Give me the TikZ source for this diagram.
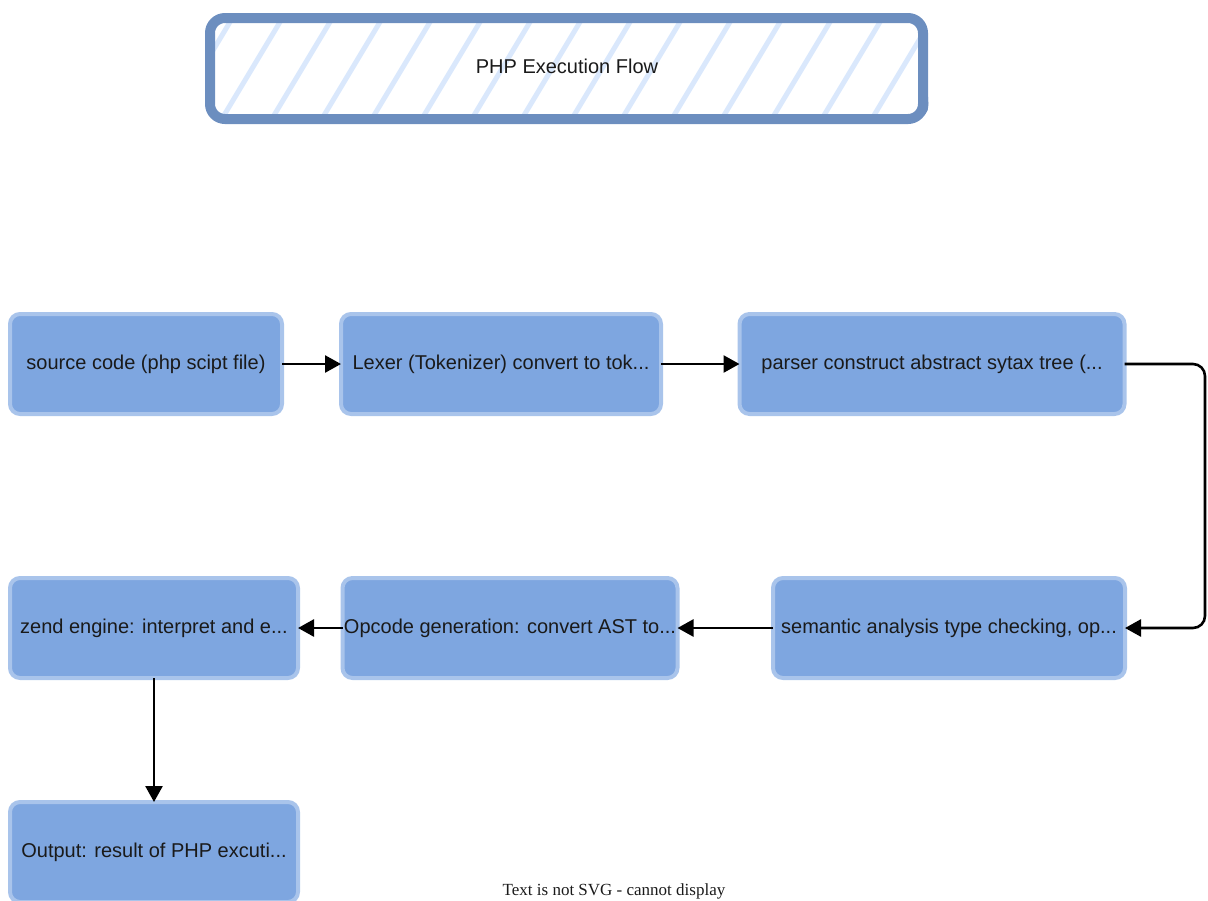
\documentclass[tikz,border=0pt]{standalone}
\usepackage{fontspec}
\setmainfont{Liberation Sans}
\newfontfamily\notefont{Liberation Serif}
\usetikzlibrary{arrows.meta}
\definecolor{stepfill}{HTML}{7EA6E0}
\definecolor{stepline}{HTML}{A9C4EB}
\definecolor{titleline}{HTML}{6C8EBF}
\definecolor{titlehatch}{HTML}{DAE8FC}
\definecolor{inktext}{HTML}{1A1A1A}
\tikzset{
  stepbox/.style={draw=stepline, fill=stepfill, line width=4pt, rounded corners=10pt,
    minimum height=100pt, inner sep=0pt, outer sep=0pt, text=inktext,
    font=\fontsize{20}{24}\selectfont},
  flow/.style={line width=2.6pt, -{Triangle[length=16pt,width=17pt]}, rounded corners=12pt}
}
\begin{document}
\begin{tikzpicture}[x=1pt,y=-1pt]
\useasboundingbox (0,0) rectangle (1208,900);

% title banner with hatched fill
\begin{scope}
  \clip[rounded corners=14pt] (210,17) rectangle (924,119);
  \foreach \i in {0,...,16} {
    \draw[titlehatch, line width=5pt] ({170+50*\i},122) -- ({236+50*\i},12);
  }
\end{scope}
\draw[titleline, line width=10pt, rounded corners=15pt] (210,18) rectangle (923,119);
\draw[titleline, line width=4pt, rounded corners=12pt] (211,16) -- (922,17) -- (927,117) -- (212,121) -- cycle;
\node[font=\fontsize{20}{24}\selectfont, text=inktext] (title) at (567,66) {PHP Execution Flow};

% pipeline steps
\node[stepbox, minimum width=272pt] (src)  at (146,364) {source code (php scipt file)};
\node[stepbox, minimum width=320pt] (lex)  at (501,364) {Lexer (Tokenizer) convert to tok...};
\node[stepbox, minimum width=385pt] (par)  at (932,364) {parser construct abstract sytax tree (...};
\node[stepbox, minimum width=352pt] (sem)  at (949,628) {semantic analysis type checking, op...};
\node[stepbox, minimum width=335pt] (opc)  at (510,628) {Opcode generation: convert AST to...};
\node[stepbox, minimum width=288pt] (zend) at (154,628) {zend engine: interpret and e...};
\node[stepbox, minimum width=288pt] (out)  at (154,852) {Output: result of PHP excuti...};

% connectors
\coordinate (turn) at (1205,364);
\draw[flow] (src) -- (lex);
\draw[flow] (lex) -- (par);
\draw[flow] (par.east) -- (turn) |- (sem.east);
\draw[flow] (sem) -- (opc);
\draw[flow] (opc) -- (zend);
\draw[flow] (zend) -- (out);

\node[font=\notefont\fontsize{17}{20}\selectfont, text=inktext] (note) at (614,891) {Text is not SVG - cannot display};
\end{tikzpicture}
\end{document}
